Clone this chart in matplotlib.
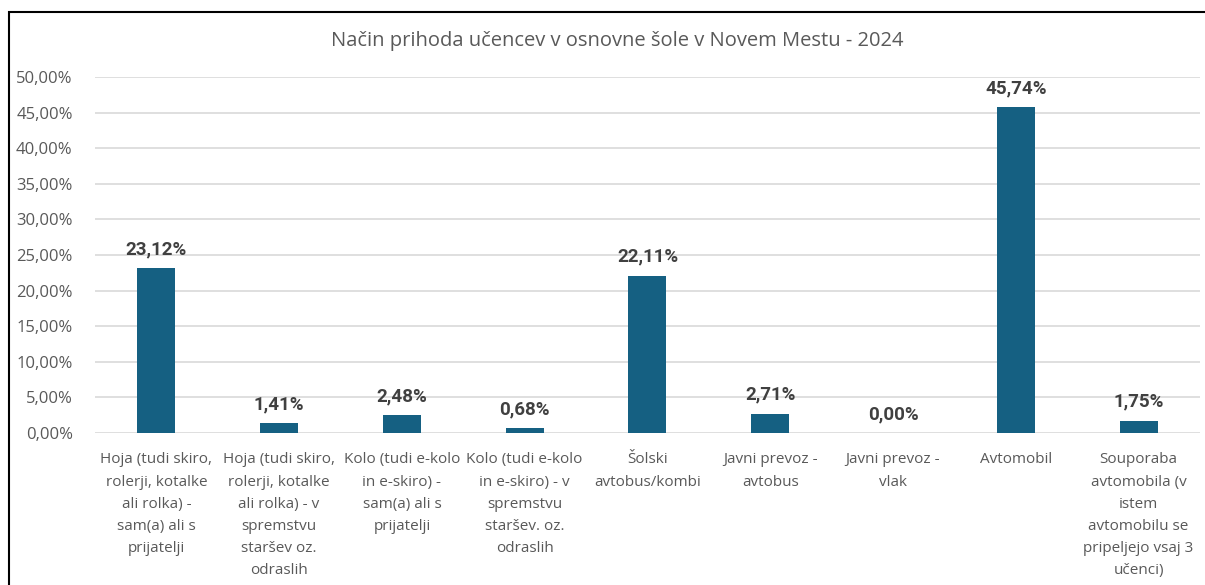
import matplotlib.pyplot as plt
from matplotlib.patches import Rectangle

plt.rcParams['font.family'] = ['Open Sans', 'DejaVu Sans']

categories = [
    'Hoja (tudi skiro,\nrolerji, kotalke\nali rolka) -\nsam(a) ali s\nprijatelji',
    'Hoja (tudi skiro,\nrolerji, kotalke\nali rolka) - v\nspremstvu\nstaršev oz.\nodraslih',
    'Kolo (tudi e-kolo\nin e-skiro) -\nsam(a) ali s\nprijatelji',
    'Kolo (tudi e-kolo\nin e-skiro) - v\nspremstvu\nstaršev. oz.\nodraslih',
    'Šolski\navtobus/kombi',
    'Javni prevoz -\navtobus',
    'Javni prevoz -\nvlak',
    'Avtomobil',
    'Souporaba\navtomobila (v\nistem\navtomobilu se\npripeljejo vsaj 3\nučenci)',
]
values = [23.12, 1.41, 2.48, 0.68, 22.11, 2.71, 0.00, 45.74, 1.75]
yticks = [0, 5, 10, 15, 20, 25, 30, 35, 40, 45, 50]

BAR = '#156082'
GRID = '#d9d9d9'
TXT = '#595959'

fig = plt.figure(figsize=(12.05, 5.85), dpi=100)
ax = fig.add_axes([0.0788, 0.2598, 0.9170, 0.6086])

x = list(range(len(values)))
ax.bar(x, values, width=0.31, color=BAR, zorder=3)
for xi, v in zip(x, values):
    ax.text(xi, v + 1.4, '{:.2f}%'.format(v).replace('.', ','), ha='center', va='bottom',
            fontsize=13.5, fontweight='bold', color='#404040', family=['Roboto', 'DejaVu Sans'])

ax.set_xlim(-0.5, len(values) - 0.5)
ax.set_ylim(0, 50)
ax.set_yticks(yticks)
ax.set_yticklabels(['{:.2f}%'.format(t).replace('.', ',') for t in yticks],
                   fontsize=12, color=TXT)
ax.set_xticks(x)
ax.set_xticklabels(categories, fontsize=11, color=TXT, linespacing=1.65, va='top')
ax.tick_params(axis='both', length=0)
ax.tick_params(axis='y', pad=16)
ax.tick_params(axis='x', pad=14)
ax.grid(axis='y', color=GRID, linewidth=1.2, zorder=0)
ax.set_axisbelow(True)
for s in ax.spines.values():
    s.set_visible(False)

fig.text(0.512, 0.93, 'Način prihoda učencev v osnovne šole v Novem Mestu - 2024',
         ha='center', va='center', fontsize=14.5, color=TXT)

# outer chart frame (cut at right and bottom)
fig.patches.append(Rectangle((9 / 1205, -0.1), 1.2, 1.1 - 12 / 585, transform=fig.transFigure,
                             fill=False, edgecolor='black', linewidth=1.5))

fig.savefig('out.png', dpi=100)
